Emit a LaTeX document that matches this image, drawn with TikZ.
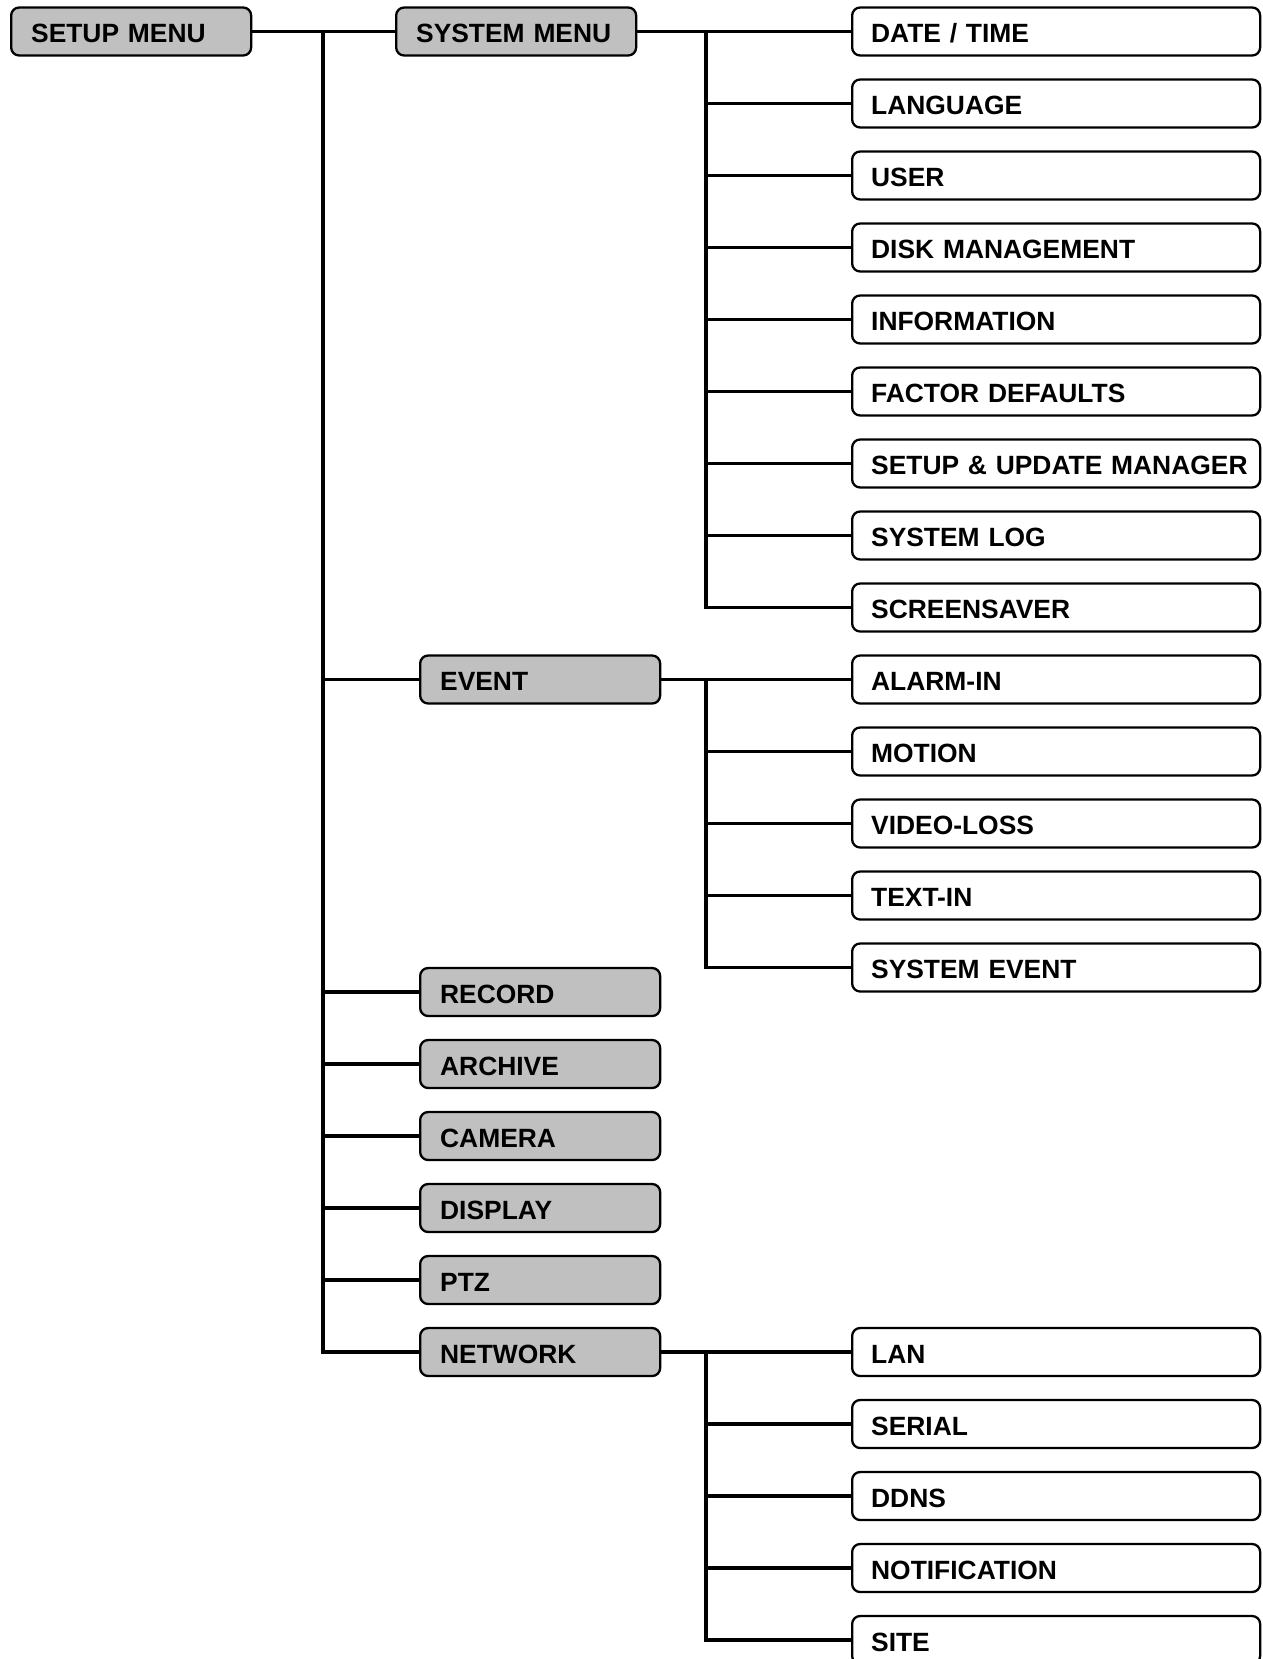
\documentclass[tikz,border=0pt]{standalone}
\usepackage{fontspec}
\setmainfont{Liberation Sans}
\usepackage{xcolor}
\definecolor{menugray}{RGB}{192,192,192}

\begin{document}
\begin{tikzpicture}[x=1pt,y=-1pt,line join=miter,
  menu/.style={draw,line width=2.3pt,rounded corners=8pt,anchor=west,minimum height=48pt,
    inner ysep=0pt,text height=22pt,text depth=0pt,align=left,
    font=\fontsize{26.4}{30}\selectfont\bfseries},
  group/.style={menu,fill=menugray,text width=200pt,inner xsep=20pt},
  item/.style={menu,fill=white,text width=370pt,inner xsep=19pt},
  wire/.style={line width=3.4pt}]
\useasboundingbox (0,0) rectangle (1262,1659);
\node[group] (setup) at (10,31.5) {SETUP MENU};
\node[group] (system) at (395,31.5) {SYSTEM MENU};
\node[group] (event) at (419,679.5) {EVENT};
\foreach \t/\n [count=\i from 0] in {RECORD/record,ARCHIVE/archive,CAMERA/camera,DISPLAY/display,PTZ/ptz,NETWORK/network}
  \node[group] (\n) at (419,992+72*\i) {\t};
\foreach \t [count=\i from 0] in {DATE / TIME,LANGUAGE,USER,DISK MANAGEMENT,INFORMATION,FACTOR DEFAULTS,{\mbox{SETUP \& UPDATE MANAGER}},SYSTEM LOG,SCREENSAVER}
  \node[item] (sys\i) at (851,31.5+72*\i) {\t};
\foreach \t [count=\i from 0] in {ALARM-IN,MOTION,VIDEO-LOSS,TEXT-IN,SYSTEM EVENT}
  \node[item] (evt\i) at (851,679.5+72*\i) {\t};
\foreach \t [count=\i from 0] in {LAN,SERIAL,DDNS,NOTIFICATION,SITE}
  \node[item] (net\i) at (851,1352+72*\i) {\t};

\coordinate (trunk) at (323,31.5);
\coordinate (sysbus) at (706,31.5);
\coordinate (evtbus) at (706,679.5);
\coordinate (netbus) at (706,1352);
\draw[wire] (setup) -- (system);
\foreach \n in {event,record,archive,camera,display,ptz,network}
  \draw[wire] (trunk) |- (\n);
\draw[wire] (system) -- (sysbus);
\foreach \i in {0,...,8} \draw[wire] (sysbus) |- (sys\i);
\draw[wire] (event) -- (evtbus);
\foreach \i in {0,...,4} \draw[wire] (evtbus) |- (evt\i);
\draw[wire] (network) -- (netbus);
\foreach \i in {0,...,4} \draw[wire] (netbus) |- (net\i);
\end{tikzpicture}
\end{document}
